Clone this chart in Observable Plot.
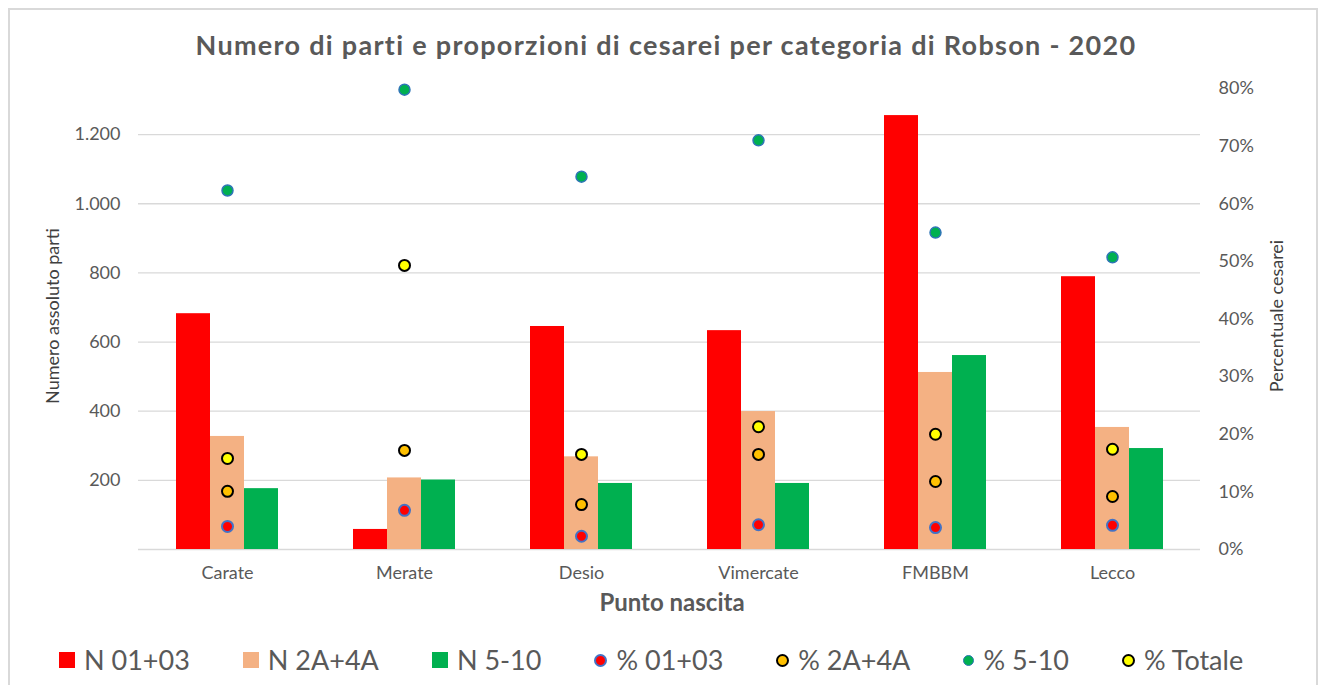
<!DOCTYPE html>
<html><head><meta charset="utf-8">
<script src="https://cdn.jsdelivr.net/npm/d3@7"></script>
<script src="https://cdn.jsdelivr.net/npm/@observablehq/plot@0.6"></script>
<style>
body{margin:0;background:#fff;font-family:Lato,sans-serif;width:1322px;height:685px;overflow:hidden;position:relative}
#frame{position:absolute;left:8px;top:8px;width:1310px;height:700px;border:2px solid #d9d9d9;box-sizing:border-box}
#title{position:absolute;left:0;width:1332px;top:28px;text-align:center;font-weight:bold;font-size:27px;letter-spacing:1.3px;color:#595959;line-height:34px}
#chart{position:absolute;left:0;top:60px}
#xtitle{position:absolute;left:0;width:1344px;text-align:center;top:588px;font-weight:bold;font-size:24px;color:#595959;line-height:28px}
#legend{position:absolute;top:643px;left:59px;display:flex;gap:53px;align-items:center;font-size:27px;color:#595959;line-height:34px;white-space:nowrap}
.item{display:flex;align-items:center;gap:9px}
.sq{width:16px;height:16px}
.dt{width:9px;height:9px;border-radius:50%}
</style></head>
<body>
<div id="frame"></div>
<div id="title">Numero di parti e proporzioni di cesarei per categoria di Robson - 2020</div>
<div id="chart"></div>
<div id="xtitle">Punto nascita</div>
<div id="legend"></div>
<script>
const sites = ["Carate","Merate","Desio","Vimercate","FMBBM","Lecco"];
const n0103 = [682, 58, 645, 633, 1255, 789];
const n2A4A = [327, 207, 268, 399, 512, 353];
const n510  = [176, 201, 191, 191, 561, 292];
const p0103 = [4.0, 6.8, 2.3, 4.3, 3.8, 4.2];
const p2A4A = [10.1, 17.2, 7.8, 16.5, 11.8, 9.2];
const p510  = [62.3, 79.8, 64.7, 71.0, 55.0, 50.7];
const pTot  = [15.8, 49.3, 16.5, 21.3, 20.0, 17.4];
const leftTicks = [0, 200, 400, 600, 800, 1000, 1200];
const pctTicks = [0, 10, 20, 30, 40, 50, 60, 70, 80];
const seriesNames = ["N 01+03","N 2A+4A","N 5-10","% 01+03","% 2A+4A","% 5-10","% Totale"];

const leftMax = 1333.33;
const pctMax = 80;
const k = leftMax / pctMax;
const itFmt = d3.formatLocale({decimal: ",", thousands: ".", grouping: [3], currency: ["", "€"]}).format(",");

const rows = (vals) => sites.map((s, i) => ({site: s, v: vals[i]}));
const barW = 34;

const dotStyles = {
  "% 01+03": {fill: "#ff0000", stroke: "#4472c4", sw: 2},
  "% 2A+4A": {fill: "#ffc000", stroke: "#000000", sw: 2},
  "% 5-10": {fill: "#00b050", stroke: "#2e75b6", sw: 1.5},
  "% Totale": {fill: "#ffff00", stroke: "#000000", sw: 2}
};
const barColors = {"N 01+03": "#ff0000", "N 2A+4A": "#f4b183", "N 5-10": "#00b050"};

const dotMark = (vals, name) => Plot.dot(rows(vals), {
  x: "site", y: d => d.v * k, r: 5.5,
  fill: dotStyles[name].fill, stroke: dotStyles[name].stroke, strokeWidth: dotStyles[name].sw
});

const chart = Plot.plot({
  width: 1322, height: 529,
  marginTop: 28, marginBottom: 40, marginLeft: 138, marginRight: 122,
  style: {fontFamily: "Lato, sans-serif", fontSize: "18px", color: "#595959", background: "transparent"},
  x: {domain: sites, paddingInner: 0.808, paddingOuter: 0.404, label: null},
  y: {domain: [0, leftMax], label: null},
  marks: [
    Plot.ruleY(leftTicks, {stroke: "#d9d9d9", strokeWidth: 1.3}),
    Plot.barY(rows(n0103), {x: "site", y: "v", fill: barColors["N 01+03"], dx: -barW}),
    Plot.barY(rows(n2A4A), {x: "site", y: "v", fill: barColors["N 2A+4A"]}),
    Plot.barY(rows(n510), {x: "site", y: "v", fill: barColors["N 5-10"], dx: barW}),
    dotMark(p510, "% 5-10"),
    dotMark(pTot, "% Totale"),
    dotMark(p2A4A, "% 2A+4A"),
    dotMark(p0103, "% 01+03"),
    Plot.axisX({tickSize: 0, tickPadding: 17, label: null, fontSize: 18}),
    Plot.axisY(leftTicks.filter(t => t > 0), {anchor: "left", tickSize: 0, tickPadding: 18, tickFormat: itFmt, label: null, fontSize: 18}),
    Plot.axisY(pctTicks.map(p => p * k), {anchor: "right", tickSize: 0, tickPadding: 18, tickFormat: v => Math.round(v / k) + "%", label: null, fontSize: 18}),
    Plot.text(["Numero assoluto parti"], {frameAnchor: "left", textAnchor: "middle", rotate: -90, dx: -85, dy: -3, fontSize: 18, fill: "#404040"}),
    Plot.text(["Percentuale cesarei"], {frameAnchor: "right", textAnchor: "middle", rotate: -90, dx: 77, dy: -3, fontSize: 18, fill: "#404040"})
  ]
});
document.getElementById("chart").appendChild(chart);

const legend = document.getElementById("legend");
seriesNames.forEach(name => {
  const item = document.createElement("div");
  item.className = "item";
  const m = document.createElement("div");
  if (barColors[name]) {
    m.className = "sq"; m.style.background = barColors[name];
  } else {
    const st = dotStyles[name];
    m.className = "dt"; m.style.background = st.fill; m.style.border = st.sw + "px solid " + st.stroke;
  }
  const t = document.createElement("span");
  t.textContent = name;
  item.appendChild(m); item.appendChild(t);
  legend.appendChild(item);
});
</script>
</body></html>
